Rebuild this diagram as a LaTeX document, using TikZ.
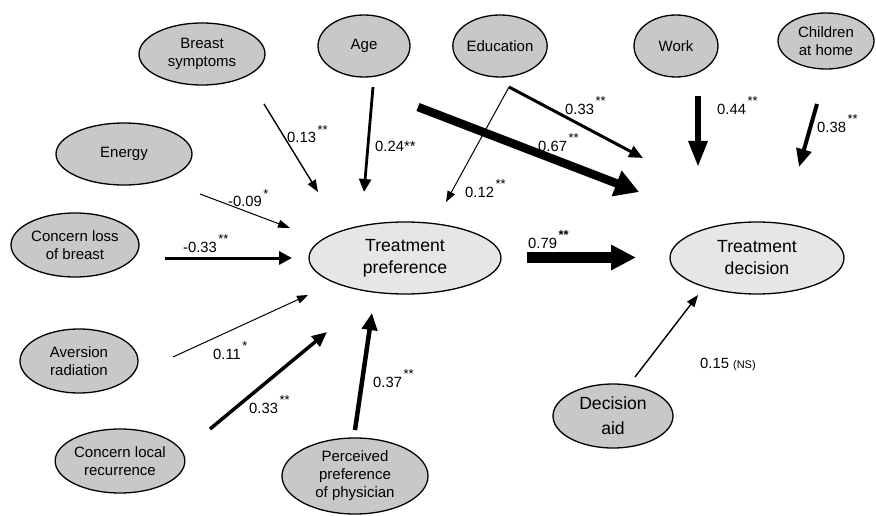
\documentclass[tikz,border=0pt]{standalone}
\usepackage{fontspec}
\setmainfont{Liberation Sans}
\usetikzlibrary{arrows.meta,shapes.geometric}
\definecolor{exogrey}{HTML}{C8C8C8}
\definecolor{endogrey}{HTML}{E6E6E6}
\newcommand{\sigs}[1]{\kern1.5pt\raisebox{9pt}{\fontsize{13}{13}\selectfont #1}}
\tikzset{
  exo/.style={ellipse, draw=black, line width=1.3pt, fill=exogrey, inner sep=0pt, align=center,
    font=\fontsize{15}{18}\selectfont},
  endo/.style={ellipse, draw=black, line width=1.3pt, fill=endogrey, inner sep=0pt, align=center,
    font=\fontsize{17.6}{22}\selectfont},
  coef/.style={anchor=base west, inner sep=0pt, font=\fontsize{14.8}{16}\selectfont},
  arr/.style n args={3}{line width=#1, -{Triangle[length=#2, width=#3]}},
}
\begin{document}
\begin{tikzpicture}[x=1pt, y=-1pt]
\useasboundingbox (0,0) rectangle (876,516);
% nodes
\node[exo, minimum width=126, minimum height=62] (bs) at (202,54) {Breast\\symptoms};
\node[exo, minimum width=136, minimum height=62] (en) at (124,154) {Energy};
\node[exo, minimum width=92, minimum height=62] (age) at (364,46) {Age};
\node[exo, minimum width=92, minimum height=62] (edu) at (500,46) {Education};
\node[exo, minimum width=84, minimum height=62] (work) at (676,46) {Work};
\node[exo, minimum width=96, minimum height=56] (ch) at (826,41) {Children\\at home};
\node[exo, minimum width=128, minimum height=64] (clb) at (75,245) {Concern loss\\of breast};
\node[exo, minimum width=118, minimum height=64] (ar) at (79,361) {Aversion\\radiation};
\node[exo, minimum width=128, minimum height=64] (clr) at (120,461) {Concern local\\recurrence};
\node[exo, minimum width=146, minimum height=76] (pp) at (355,476) {Perceived\\preference\\of physician};
\node[endo, minimum width=192, minimum height=72] (tp) at (405,258) {Treatment\\preference};
\node[endo, minimum width=174, minimum height=72] (td) at (757,258) {Treatment\\decision};
\node[exo, minimum width=120, minimum height=64, font=\fontsize{17.6}{25}\selectfont] (da) at (613,416) {Decision\\aid};
% connector end points
\coordinate (bs-o) at (264,104);  \coordinate (tp-i1) at (318,192);
\coordinate (age-o) at (373,87);  \coordinate (tp-i2) at (364,192);
\coordinate (age-o2) at (418,107); \coordinate (td-i1) at (639,192);
\coordinate (edu-o) at (509,87);  \coordinate (td-i2) at (643,158);
\coordinate (tp-i3) at (446,202);
\coordinate (work-o) at (698,96); \coordinate (td-i3) at (698,167);
\coordinate (ch-o) at (817,104);  \coordinate (td-i4) at (799,167);
\coordinate (en-o) at (200,194);  \coordinate (tp-i4) at (290,228);
\coordinate (clb-o) at (165,258); \coordinate (tp-i5) at (292,258);
\coordinate (ar-o) at (173,357);  \coordinate (tp-i6) at (308,295);
\coordinate (clr-o) at (210,429); \coordinate (tp-i7) at (327,332);
\coordinate (pp-o) at (355,430);  \coordinate (tp-i8) at (372,313);
\coordinate (tp-o) at (527,257.5);  \coordinate (td-i5) at (636,257.5);
\coordinate (da-o) at (635,377);  \coordinate (td-i6) at (698,295);
% connectors
\draw[arr={1.4pt}{12pt}{9pt}] (bs-o) -- (tp-i1);
\draw[arr={2.8pt}{13pt}{12pt}] (age-o) -- (tp-i2);
\draw[arr={8.5pt}{24pt}{26pt}] (age-o2) -- (td-i1);
\draw[arr={3pt}{14pt}{12pt}] (edu-o) -- (td-i2);
\draw[arr={1pt}{11pt}{8pt}] (edu-o) -- (tp-i3);
\draw[arr={6pt}{26pt}{18pt}] (work-o) -- (td-i3);
\draw[arr={4pt}{18pt}{15pt}] (ch-o) -- (td-i4);
\draw[arr={1pt}{12pt}{8pt}] (en-o) -- (tp-i4);
\draw[arr={3pt}{13pt}{13pt}] (clb-o) -- (tp-i5);
\draw[arr={1pt}{11pt}{8pt}] (ar-o) -- (tp-i6);
\draw[arr={3.5pt}{15pt}{13pt}] (clr-o) -- (tp-i7);
\draw[arr={4.5pt}{17pt}{15pt}] (pp-o) -- (tp-i8);
\draw[arr={11pt}{25pt}{24pt}] (tp-o) -- (td-i5);
\draw[arr={1.4pt}{12pt}{9pt}] (da-o) -- (td-i6);
% coefficient labels
\node[coef] (l1) at (287,143) {0.13\sigs{**}};
\node[coef] (l2) at (375,152) {0.24**};
\node[coef] (l3) at (538,152) {0.67\sigs{**}};
\node[coef] (l4) at (565,115) {0.33\sigs{**}};
\node[coef] (l5) at (465,197) {0.12\sigs{**}};
\node[coef] (l6) at (717,115) {0.44\sigs{**}};
\node[coef] (l7) at (817,133) {0.38\sigs{**}};
\node[coef] (l8) at (228,207) {-0.09\sigs{*}};
\node[coef] (l9) at (183,252) {-0.33\sigs{**}};
\node[coef] (l10) at (213,359) {0.11\sigs{*}};
\node[coef] (l11) at (249,413) {0.33\sigs{**}};
\node[coef] (l12) at (373,387) {0.37\sigs{**}};
\node[coef] (l13) at (528,248) {0.79\sigs{\bfseries **}};
\node[coef] (l14) at (700,368) {0.15 {\fontsize{11}{11}\selectfont (NS)}};
\end{tikzpicture}
\end{document}
